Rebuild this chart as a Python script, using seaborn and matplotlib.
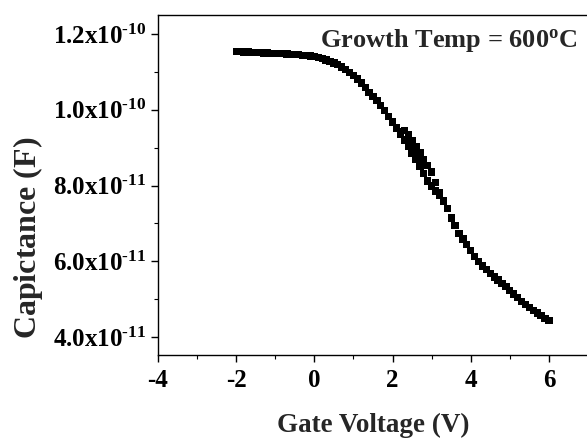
"""
C-V curve of the MOS capacitor grown at 600 C (forward + reverse sweep).
Output: out.png
"""
import numpy as np
import pandas as pd
import matplotlib
matplotlib.use("Agg")
import matplotlib.pyplot as plt
from matplotlib.ticker import MultipleLocator, FuncFormatter
import seaborn as sns

# ── data (capacitance in units of 1e-11 F) ───────────────────────────────────
V_FWD = [-2.0, -1.9, -1.8, -1.7, -1.6, -1.5, -1.4, -1.3, -1.2, -1.1,
         -1.0, -0.9, -0.8, -0.7, -0.6, -0.5, -0.4, -0.3, -0.2, -0.1,
         0.0, 0.1, 0.2, 0.3, 0.4, 0.5, 0.6, 0.7, 0.8, 0.9,
         1.0, 1.1, 1.2, 1.3, 1.4, 1.5, 1.6, 1.7, 1.8, 1.9,
         2.0, 2.1, 2.2, 2.3, 2.4, 2.5, 2.6, 2.7, 2.8, 2.9,
         3.0, 3.1, 3.2, 3.3, 3.4, 3.5, 3.6, 3.7, 3.8, 3.9,
         4.0, 4.1, 4.2, 4.3, 4.4, 4.5, 4.6, 4.7, 4.8, 4.9,
         5.0, 5.1, 5.2, 5.3, 5.4, 5.5, 5.6, 5.7, 5.8, 5.9, 6.0]
C_FWD = [11.53, 11.53, 11.52, 11.52, 11.51, 11.51, 11.51, 11.50, 11.50, 11.49,
         11.49, 11.48, 11.48, 11.47, 11.46, 11.46, 11.45, 11.44, 11.43, 11.42,
         11.40, 11.38, 11.35, 11.31, 11.27, 11.23, 11.19, 11.13, 11.06, 10.98,
         10.90, 10.81, 10.71, 10.58, 10.46, 10.35, 10.24, 10.12, 9.98, 9.83,
         9.68, 9.52, 9.36, 9.20, 9.04, 8.86, 8.69, 8.51, 8.31, 8.12,
         7.99, 7.86, 7.74, 7.58, 7.40, 7.14, 6.94, 6.74, 6.59, 6.45,
         6.29, 6.13, 5.99, 5.88, 5.78, 5.68, 5.59, 5.51, 5.42, 5.33,
         5.23, 5.14, 5.04, 4.95, 4.86, 4.78, 4.71, 4.64, 4.57, 4.50, 4.44]

# reverse sweep only separates from the forward one between ~2.2 and 3.3 V
V_REV = [2.2, 2.3, 2.4, 2.5, 2.6, 2.7, 2.8, 2.9, 3.0, 3.1, 3.2, 3.3]
C_REV = [9.42, 9.45, 9.33, 9.18, 9.02, 8.86, 8.69, 8.53, 8.36, 8.08, 7.80, 7.60]

X_TICKS = [-4, -2, 0, 2, 4, 6]
Y_TICKS = [4e-11, 6e-11, 8e-11, 1.0e-10, 1.2e-10]

SERIF = "Liberation Serif"
HYPHEN = "\u2010"   # short hyphen for the exponents, like the original

sns.set_theme(style="ticks")
plt.rcParams.update({
    "font.family": [SERIF, "DejaVu Serif"],
    "font.weight": "bold",
    "mathtext.fontset": "custom",
    "mathtext.rm": SERIF,
    "mathtext.bf": f"{SERIF}:bold",
    "mathtext.it": f"{SERIF}:bold:italic",
    "mathtext.default": "bf",
    "axes.linewidth": 1.0,
})

df = pd.concat([
    pd.DataFrame({"V": V_FWD, "C": np.array(C_FWD) * 1e-11, "sweep": "fwd"}),
    pd.DataFrame({"V": V_REV, "C": np.array(C_REV) * 1e-11, "sweep": "rev"}),
], ignore_index=True)


def sci_label(v, pos):
    exp = int(np.floor(np.log10(abs(v))))
    mant = v / 10 ** exp
    return f"{mant:.1f}x10$^{{{HYPHEN}{abs(exp)}}}$"


fig = plt.figure(figsize=(5.87, 4.40), dpi=100)
ax = fig.add_axes([158 / 587, 85 / 440, 430 / 587, 340 / 440])

sns.scatterplot(data=df, x="V", y="C", hue="sweep",
                palette={"fwd": "black", "rev": "black"},
                marker="s", s=28, linewidth=0, legend=False, ax=ax)

ax.set_xlim(-4, 7)
ax.set_ylim(3.53e-11, 1.25e-10)
ax.set_xticks(X_TICKS)
ax.set_yticks(Y_TICKS)
ax.xaxis.set_minor_locator(MultipleLocator(1))
ax.yaxis.set_minor_locator(MultipleLocator(1e-11))
ax.yaxis.set_major_formatter(FuncFormatter(sci_label))
ax.xaxis.set_major_formatter(FuncFormatter(lambda v, p: f"{v:.0f}"))

ax.tick_params(which="major", direction="out", length=5, width=1.0,
               colors="black", pad=4)
ax.tick_params(which="minor", direction="out", length=3, width=0.8,
               colors="black")
ax.tick_params(axis="x", labelsize=18, pad=5)
ax.tick_params(axis="y", labelsize=18, pad=3)
for lab in ax.get_xticklabels() + ax.get_yticklabels():
    lab.set_fontweight("bold")

for s in ax.spines.values():
    s.set_visible(True)
    s.set_color("black")

ax.set_xlabel("Gate Voltage (V)", fontsize=19.5, fontweight="bold", labelpad=15)
ax.set_ylabel("Capictance $\\mathrm{(F)}$", fontsize=23, fontweight="bold")
ax.yaxis.set_label_coords(-0.262, 0.345)

ax.text(0.974, 0.905, "Growth Temp = 600$^{\\mathbf{o}}$C", transform=ax.transAxes,
        ha="right", va="baseline", fontsize=19, fontweight="bold")

fig.savefig("out.png", dpi=100)
